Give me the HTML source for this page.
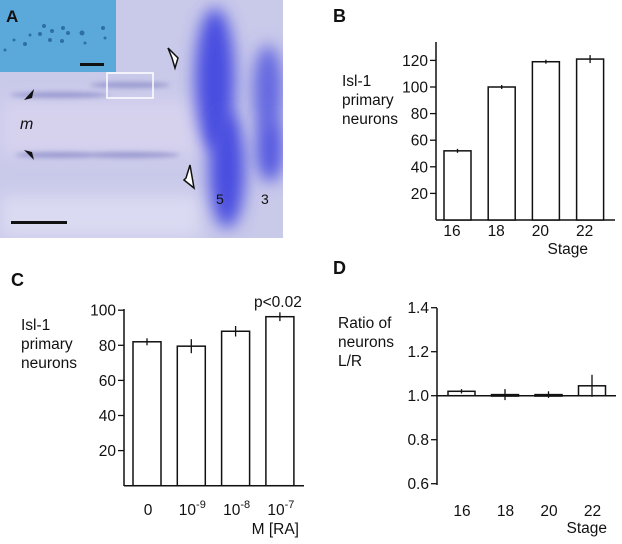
<!DOCTYPE html>
<html><head><meta charset="utf-8">
<style>
body{margin:0;background:#fff;}
svg text{font-family:"Liberation Sans",sans-serif;fill:#111;}
</style></head>
<body>
<svg width="622" height="539" viewBox="0 0 622 539" xmlns="http://www.w3.org/2000/svg">
<defs>
<filter id="blur" x="-50%" y="-50%" width="200%" height="200%"><feGaussianBlur stdDeviation="8"/></filter>
<filter id="blur2" x="-20%" y="-200%" width="140%" height="500%"><feGaussianBlur stdDeviation="2.5"/></filter>
<clipPath id="clipA"><rect x="0" y="0" width="283" height="238"/></clipPath>
</defs>
<g clip-path="url(#clipA)">
  <rect x="0" y="0" width="283" height="238" fill="#c9c9ea"/>
  <rect x="0" y="100" width="220" height="55" fill="#d6d2ee" filter="url(#blur)"/>
  <rect x="0" y="195" width="200" height="43" fill="#dadaf2" filter="url(#blur)"/>
  <ellipse cx="215" cy="80" rx="20" ry="72" fill="#4a4ee0" filter="url(#blur)"/>
  <ellipse cx="227" cy="170" rx="18" ry="58" fill="#4a4ee0" filter="url(#blur)"/>
  <ellipse cx="268" cy="90" rx="15" ry="45" fill="#6468e0" filter="url(#blur)"/>
  <ellipse cx="270" cy="150" rx="14" ry="32" fill="#5558e0" filter="url(#blur)"/>
  <g fill="#9a9ad0" filter="url(#blur2)">
    <ellipse cx="60" cy="155" rx="45" ry="3"/><ellipse cx="130" cy="155" rx="50" ry="3"/>
    <ellipse cx="60" cy="95" rx="50" ry="3"/><ellipse cx="130" cy="85" rx="40" ry="3"/>
  </g>
  <rect x="0" y="0" width="116" height="72" fill="#5ba9db"/>
  <g fill="#2e6fa8">
    <circle cx="44" cy="26" r="2"/><circle cx="40" cy="34" r="2"/><circle cx="52" cy="31" r="2"/><circle cx="63" cy="28" r="2"/>
    <circle cx="68" cy="33" r="2"/><circle cx="82" cy="33" r="2.5"/><circle cx="103" cy="28" r="2"/><circle cx="50" cy="40" r="2"/>
    <circle cx="62" cy="41" r="2"/><circle cx="25" cy="44" r="2"/><circle cx="14" cy="40" r="1.5"/><circle cx="5" cy="50" r="1.5"/>
    <circle cx="85" cy="43" r="1.5"/><circle cx="105" cy="38" r="1.5"/><circle cx="30" cy="35" r="1.5"/>
  </g>
  <text x="6" y="22" font-size="17" font-weight="bold">A</text>
  <rect x="80" y="63" width="24" height="3" fill="#111"/>
  <rect x="107" y="73" width="46" height="25" fill="none" stroke="#fff" stroke-width="1.5"/>
  <polygon points="24,100 34,89 32,98" fill="#111"/><polygon points="24,150 34,160 32,152" fill="#111"/>
  <polygon points="168,48 178,58 175,68 172,58" fill="#fff" stroke="#111" stroke-width="1.5"/>
  <polygon points="184,180 194,188 190,165 186,178" fill="#fff" stroke="#111" stroke-width="1.5"/>
  <text x="20" y="129" font-size="16" font-style="italic" font-family="Liberation Serif">m</text>
  <text x="216" y="204" font-size="14">5</text>
  <text x="261" y="204" font-size="14">3</text>
  <rect x="11" y="221" width="56" height="3" fill="#111"/>
</g>
<g id="charts"></g>
</svg>
<script>
// Panel B
const bCats=["16","18","20","22"];
const bVals=[52,100,119,121];
const bErr=[1.5,1.5,1.5,3];
const bTicks=[20,40,60,80,100,120];
// Panel C
const cCats=["0","10-9","10-8","10-7"];
const cVals=[82,79.5,88,96.3];
const cErr=[2,4,3,2.5];
const cTicks=[20,40,60,80,100];
// Panel D
const dCats=["16","18","20","22"];
const dVals=[1.02,1.005,1.005,1.045];
const dErr=[0.01,0.025,0.015,0.05];
const dTicks=[0.6,0.8,1.0,1.2,1.4];

const NS="http://www.w3.org/2000/svg";
const root=document.getElementById('charts');
const FS=15.5;
function mk(tag,attrs,parent,text){const e=document.createElementNS(NS,tag);for(const k in attrs)e.setAttribute(k,attrs[k]);if(text!==undefined)e.textContent=text;(parent||root).appendChild(e);return e;}

function chart(o){
  const g=mk('g',{});
  
  
  const y=v=>o.y0-(v-o.v0)*o.k;
  const ax=mk('line',{x1:o.ax,y1:o.axTop,x2:o.ax,y2:o.axBot,stroke:'#111','stroke-width':1.5},g);
  
  
  const xl=mk('line',{x1:o.ax,y1:y(o.base),x2:o.xEnd,y2:y(o.base),stroke:'#111','stroke-width':1.5},g);
  
  
  o.ticks.forEach(t=>{
    const tl=mk('line',{x1:o.ax-6,y1:y(t),x2:o.ax,y2:y(t),stroke:'#111','stroke-width':1.3},g);
    
    
    const tx=mk('text',{x:o.ax-8,y:y(t)+5.5,'font-size':FS,'text-anchor':'end'},g,o.fmt(t));
    
    
  });
  o.vals.forEach((v,i)=>{
    const cx=o.c0+i*o.step;
    const top=Math.min(y(v),y(o.base)), h=Math.abs(y(v)-y(o.base));
    const r=mk('rect',{x:cx-o.bw/2,y:top,width:o.bw,height:Math.max(h,1.5),fill:'#fff',stroke:'#111','stroke-width':1.5},g);
    
    
    const e=mk('line',{x1:cx,y1:y(v+o.err[i]),x2:cx,y2:y(v-o.err[i]),stroke:'#111','stroke-width':1.3},g);
    
    
    const lab=o.cats[i];
    let t;
    if(lab.indexOf('-')>0){
      const p=lab.split('-');
      t=mk('text',{x:o.lx0+i*o.step,y:o.ly,'font-size':FS,'text-anchor':'middle'},g);
      mk('tspan',{},t,p[0]);
      mk('tspan',{dy:-7,'font-size':11},t,'-'+p[1]);
    } else t=mk('text',{x:o.lx0+i*o.step,y:o.ly,'font-size':FS,'text-anchor':'middle'},g,lab);
    
    
  });
  o.ylab.forEach((s,i)=>{
    const t=mk('text',{x:o.ylx,y:o.yly+i*19,'font-size':FS},g,s);
    
    
  });
  const xt=mk('text',{x:o.xtx,y:o.xty,'font-size':FS,'text-anchor':'end'},g,o.xtitle);
  
  
  const pl=mk('text',{x:o.px,y:o.py,'font-size':18,'font-weight':'bold'},g,o.panel);
  
  
  return {g,y};
}
chart({name:'chart-b',ax:436,axTop:42,axBot:220,xEnd:615,y0:220,v0:0,k:26.6/20,base:0,ticks:bTicks,fmt:t=>String(t),
  vals:bVals,err:bErr,cats:bCats,c0:457.5,step:44.2,bw:27,lx0:452,ly:236,ylab:['Isl-1','primary','neurons'],ylx:342,yly:86,
  xtitle:'Stage',xtx:588,xty:254,panel:'B',px:333,py:22});
const c=chart({name:'chart-c',ax:124,axTop:309,axBot:486,xEnd:304,y0:485.7,v0:0,k:35.1/20,base:0,ticks:cTicks,fmt:t=>String(t),
  vals:cVals,err:cErr,cats:cCats,c0:147,step:44.3,bw:28,lx0:148,ly:515,ylab:['Isl-1','primary','neurons'],ylx:21,yly:330,
  xtitle:'M [RA]',xtx:299,xty:534,panel:'C',px:11,py:286});
const p=mk('text',{x:254,y:307,'font-size':FS},c.g,'p<0.02');


chart({name:'chart-d',ax:437,axTop:308,axBot:485,xEnd:616,y0:395.7,v0:1.0,k:44/0.2,base:1.0,ticks:dTicks,fmt:t=>t.toFixed(1),
  vals:dVals,err:dErr,cats:dCats,c0:461.5,step:43.5,bw:27,lx0:462,ly:516,ylab:['Ratio of','neurons','L/R'],ylx:338,yly:328,
  xtitle:'Stage',xtx:607,xty:533,panel:'D',px:333,py:274});
</script>
</body></html>
